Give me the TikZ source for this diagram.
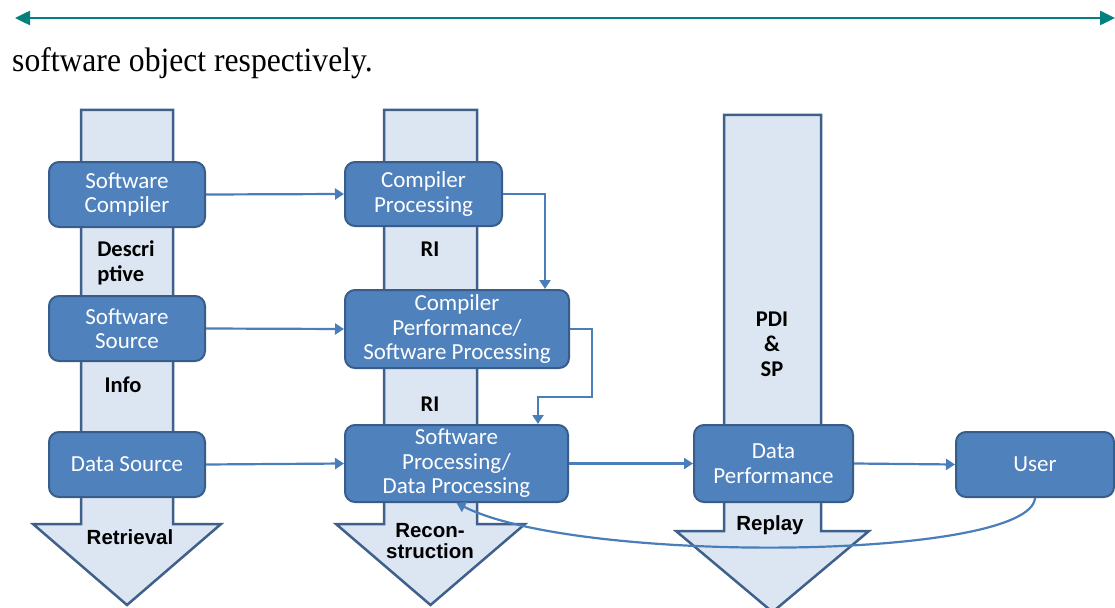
\documentclass[tikz,border=0pt]{standalone}
\usepackage{fontspec}
\setmainfont{Liberation Serif}
\newfontfamily\boxfont{Carlito}
\newfontfamily\headfont{Liberation Sans}
\usepackage{tikz}
\usetikzlibrary{arrows.meta, calc}
\definecolor{boxblue}{RGB}{79, 129, 189}
\definecolor{boxedge}{RGB}{56, 93, 138}
\definecolor{shaftfill}{RGB}{220, 230, 242}
\definecolor{shaftedge}{RGB}{64, 96, 140}
\definecolor{flowblue}{RGB}{74, 126, 187}
\definecolor{rule}{RGB}{0, 128, 127}

\begin{document}
\begin{tikzpicture}[x=1pt, y=-1pt,
    box/.style={draw=boxedge, fill=boxblue, line width=2pt, rounded corners=10pt,
      text=white, align=center, inner sep=0pt,
      font=\boxfont\fontsize{23}{24.5}\selectfont},
    shaft/.style={draw=shaftedge, fill=shaftfill, line width=2.5pt},
    flow/.style={draw=flowblue, line width=2.2pt, -{Triangle[length=9pt, width=11pt]}},
    tag/.style={align=center, inner sep=0pt, font=\boxfont\bfseries\fontsize{22.5}{25}\selectfont},
    headtag/.style={align=center, inner sep=0pt, font=\headfont\bfseries\fontsize{20.5}{21}\selectfont}]
  \useasboundingbox (0, 0) rectangle (1115, 607);

  % top rule and sentence
  \coordinate (rulew) at (15, 18);
  \coordinate (rulee) at (1115, 18);
  \draw [rule, line width=2.5pt, {Triangle[length=15pt, width=14pt]}-{Triangle[length=15pt, width=14pt]}] (rulew) -- (rulee);
  \node [anchor=base west, inner sep=0pt, font=\fontsize{34}{40}\selectfont] (intro) at (12, 72)
    {\scalebox{0.93}[1]{software object respectively.}};

  % the three big arrows
  \draw [shaft] (81, 110) -- (173, 110) -- (173, 524) -- (221, 524) -- (127, 605) -- (33, 524) -- (81, 524) -- cycle;
  \draw [shaft] (384, 110) -- (477, 110) -- (477, 524) -- (525, 524) -- (430.5, 605) -- (336, 524) -- (384, 524) -- cycle;
  \draw [shaft] (724, 115) -- (821, 115) -- (821, 531) -- (869, 531) -- (772.5, 612) -- (676, 531) -- (724, 531) -- cycle;

  \node [tag, align=left] (descr) at (126, 263) {Descri\\ptive};
  \node [tag] (info) at (123, 385) {Info};
  \node [headtag] (retr) at (130, 537) {Retrieval};
  \node [tag] (rione) at (430, 249) {RI};
  \node [tag] (ritwo) at (430, 404) {RI};
  \node [headtag] (recon) at (430, 541) {Recon-\\struction};
  \node [tag] (pdisp) at (772, 344) {PDI\\\&\\SP};
  \node [headtag] (replay) at (770, 525) {Replay};

  % boxes
  \node [box, minimum width=156, minimum height=65] (sc) at (127, 194.5) {Software\\Compiler};
  \node [box, minimum width=156, minimum height=65] (ss) at (127, 328.5) {Software\\Source};
  \node [box, minimum width=156, minimum height=65] (ds) at (127, 464.5) {Data Source};
  \node [box, minimum width=157, minimum height=64] (cp) at (423.5, 194) {Compiler\\Processing};
  \node [box, minimum width=224, minimum height=78] (cperf) at (457, 329) {Compiler\\Performance/\\Software Processing};
  \node [box, minimum width=223, minimum height=77] (spd) at (456.5, 463.5) {Software\\Processing/\\Data Processing};
  \node [box, minimum width=159, minimum height=77] (dp) at (773.5, 463.5) {Data\\Performance};
  \node [box, minimum width=158, minimum height=65] (user) at (1035, 464.5) {User};

  % connectors
  \draw [flow] (sc.east) -- (cp.west);
  \draw [flow] (cp.east) -| ([xshift=88]cperf.north);
  \draw [flow] (ss.east) -- (cperf.west);
  \coordinate (bend) at (592, 397);
  \draw [flow] (cperf.east) -| (bend) -| ([xshift=81.5]spd.north);
  \draw [flow] (ds.east) -- (spd.west);
  \draw [flow] (spd.east) -- (dp.west);
  \draw [flow] (dp.east) -- (user.west);
  \draw [flow] (user.south) .. controls (1030, 560) and (580, 565) .. (spd.south);
\end{tikzpicture}
\end{document}
